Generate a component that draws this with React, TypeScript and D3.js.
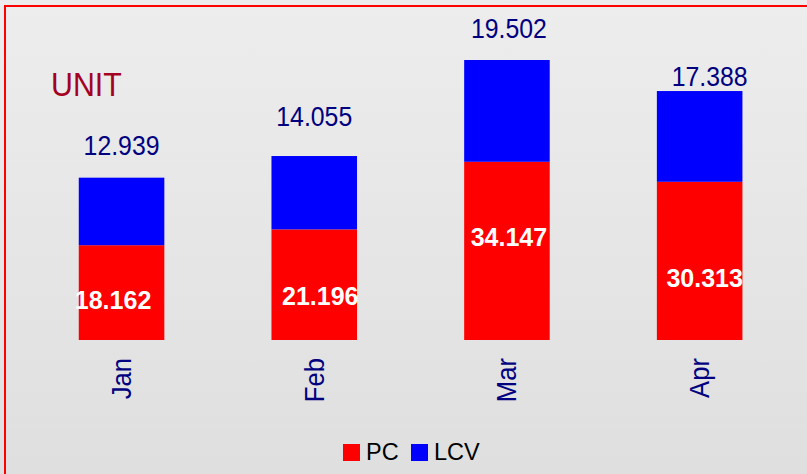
import React from 'react';
import * as d3 from 'd3';

const width = 807;
const height = 474;

const months = ['Jan', 'Feb', 'Mar', 'Apr'];
const pcValues = [18.162, 21.196, 34.147, 30.313];
const lcvValues = [12.939, 14.055, 19.502, 17.388];
const seriesNames = ['PC', 'LCV'];
const seriesColors = ['#ff0000', '#0000ff'];

// label nudges (px) so labels sit where the original placed them
const totalNudge = [[0, -1], [0, -8], [2, 0], [10, 17]];
const pcNudge = [[-8.5, 7.5], [6, 11.5], [2, -14], [5, 17]];

const navy = '#000080';
const font = 'Arial, "Liberation Sans", sans-serif';

export default function App() {
    const totals = months.map((m, i) => pcValues[i] + lcvValues[i]);

    const x = d3.scaleBand()
        .domain(months)
        .range([25.2, 796])
        .paddingInner(0.556)
        .paddingOuter(0.278);

    const y = d3.scaleLinear()
        .domain([0, d3.max(totals)])
        .range([340, 60]);

    const rows = months.map((m, i) => ({ month: m, PC: pcValues[i], LCV: lcvValues[i] }));
    const stacked = d3.stack().keys(seriesNames)(rows);

    const bw = x.bandwidth();

    return (
        <div style={{ position: 'absolute', left: 0, top: 0 }}>
            <svg width={width} height={height} style={{ display: 'block' }}>
                <defs>
                    <linearGradient id="bg" x1="0" y1="0" x2="0" y2="1">
                        <stop offset="0%" stopColor="#ededed" />
                        <stop offset="100%" stopColor="#dfdfdf" />
                    </linearGradient>
                </defs>
                <rect x={0} y={0} width={width} height={height} fill="url(#bg)" />
                <rect x={5} y={6} width={width + 10} height={height + 10}
                      fill="none" stroke="#ff0000" strokeWidth={2} />

                <text transform="translate(51,96) scale(0.92,1)" fontFamily={font}
                      fontSize={33} fill="#a50021">UNIT</text>

                {stacked.map((series, si) => (
                    <g key={series.key} fill={seriesColors[si]}>
                        {series.map((d, i) => (
                            <rect key={i}
                                  x={x(months[i])}
                                  y={y(d[1])}
                                  width={bw}
                                  height={y(d[0]) - y(d[1])} />
                        ))}
                    </g>
                ))}

                {months.map((m, i) => {
                    const cx = x(m) + bw / 2;
                    const top = y(totals[i]);
                    const mid = (y(0) + y(pcValues[i])) / 2;
                    return (
                        <g key={m}>
                            <text transform={`translate(${cx + totalNudge[i][0]},${top - 22 + totalNudge[i][1]}) scale(0.92,1)`}
                                  textAnchor="middle" fontFamily={font} fontSize={27} fill={navy}>
                                {lcvValues[i].toFixed(3)}
                            </text>
                            <text transform={`translate(${cx + pcNudge[i][0]},${mid + 9 + pcNudge[i][1]})`}
                                  textAnchor="middle" fontFamily={font} fontSize={25}
                                  fontWeight="bold" fill="#ffffff">
                                {pcValues[i].toFixed(3)}
                            </text>
                            <text transform={`translate(${cx + 9.5},358) rotate(-90) scale(0.95,1)`}
                                  textAnchor="end" fontFamily={font} fontSize={27} fill={navy}>
                                {m}
                            </text>
                        </g>
                    );
                })}

                <g transform="translate(343,444)">
                    {seriesNames.map((s, i) => (
                        <g key={s} transform={`translate(${i * 68},0)`}>
                            <rect x={0} y={0} width={17} height={17} fill={seriesColors[i]} />
                            <text x={23} y={16} fontFamily={font} fontSize={23.5} fill="#000000">{s}</text>
                        </g>
                    ))}
                </g>
            </svg>
        </div>
    );
}
